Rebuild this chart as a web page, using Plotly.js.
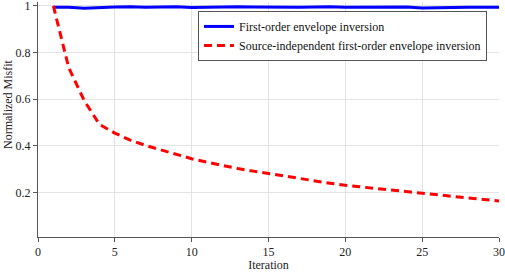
<!DOCTYPE html>
<html><head><meta charset="utf-8">
<script src="https://cdn.plot.ly/plotly-3.0.1.min.js"></script>
<style>html,body{margin:0;padding:0;background:#fff}#chart{width:505px;height:272px}</style>
</head><body><div id="chart"></div>
<script>
const iterations = [1,2,3,4,5,6,7,8,9,10,11,12,13,14,15,16,17,18,19,20,21,22,23,24,25,26,27,28,29,30];
const firstOrder = [0.994,0.994,0.990,0.994,0.996,0.997,0.994,0.996,0.997,0.993,0.995,0.996,0.997,0.996,0.995,0.997,0.995,0.996,0.997,0.994,0.995,0.997,0.998,0.996,0.991,0.993,0.994,0.994,0.995,0.994];
const sourceIndep = [1.0,0.735,0.595,0.492,0.455,0.425,0.402,0.382,0.362,0.345,0.330,0.316,0.303,0.292,0.281,0.270,0.260,0.250,0.240,0.231,0.224,0.217,0.210,0.203,0.196,0.189,0.182,0.176,0.170,0.164];
const seriesNames = ["First-order envelope inversion","Source-independent first-order envelope inversion"];
const xTicks = [0,5,10,15,20,25,30];
const yTicks = [0.2,0.4,0.6,0.8,1];
const yTickText = ["0.2","0.4","0.6","0.8","1"];
const xTitle = "Iteration";
const yTitle = "Normalized Misfit";

const fam = "Liberation Serif, Times New Roman, serif";
const traces = [
  {x:iterations, y:firstOrder, name:seriesNames[0], mode:"lines", line:{color:"#0000ff", width:3}},
  {x:iterations, y:sourceIndep, name:seriesNames[1], mode:"lines", line:{color:"#ff0000", width:3, dash:"8px,5px"}}
];
const layout = {
  width:505, height:272,
  margin:{l:38, r:6, t:2, b:35},
  paper_bgcolor:"#fff", plot_bgcolor:"#fff",
  font:{family:fam, size:12, color:"#222"}, showlegend:true,
  legend:{x:0.347, y:0.962, xanchor:"left", yanchor:"top", bordercolor:"#555", borderwidth:1, bgcolor:"#fff",
          font:{family:fam, size:12, color:"#111"}, tracegroupgap:0},
  xaxis:{range:[0,30], tickvals:xTicks, ticks:"outside", ticklen:4, tickcolor:"#555",
         showline:true, linecolor:"#555", linewidth:1, showgrid:true, gridcolor:"#e3e3e3", zeroline:false,
         ticklabeloverflow:"allow",
         title:{text:xTitle, font:{family:fam, size:12, color:"#222"}, standoff:4}, tickfont:{family:fam,size:12}},
  yaxis:{range:[0.0095,1.017], tickvals:yTicks, ticktext:yTickText, ticks:"outside", ticklen:4, tickcolor:"#555",
         showline:true, linecolor:"#555", linewidth:1, showgrid:true, gridcolor:"#e3e3e3", zeroline:false,
         ticklabeloverflow:"allow", tickfont:{family:fam,size:12}},
  annotations:[{text:yTitle, xref:"paper", yref:"paper", x:-0.065, y:0.566, xanchor:"center", yanchor:"middle",
                textangle:-90, showarrow:false, font:{family:fam, size:12, color:"#222"}}]
};
Plotly.newPlot("chart", traces, layout, {displayModeBar:false, staticPlot:true});
</script></body></html>
